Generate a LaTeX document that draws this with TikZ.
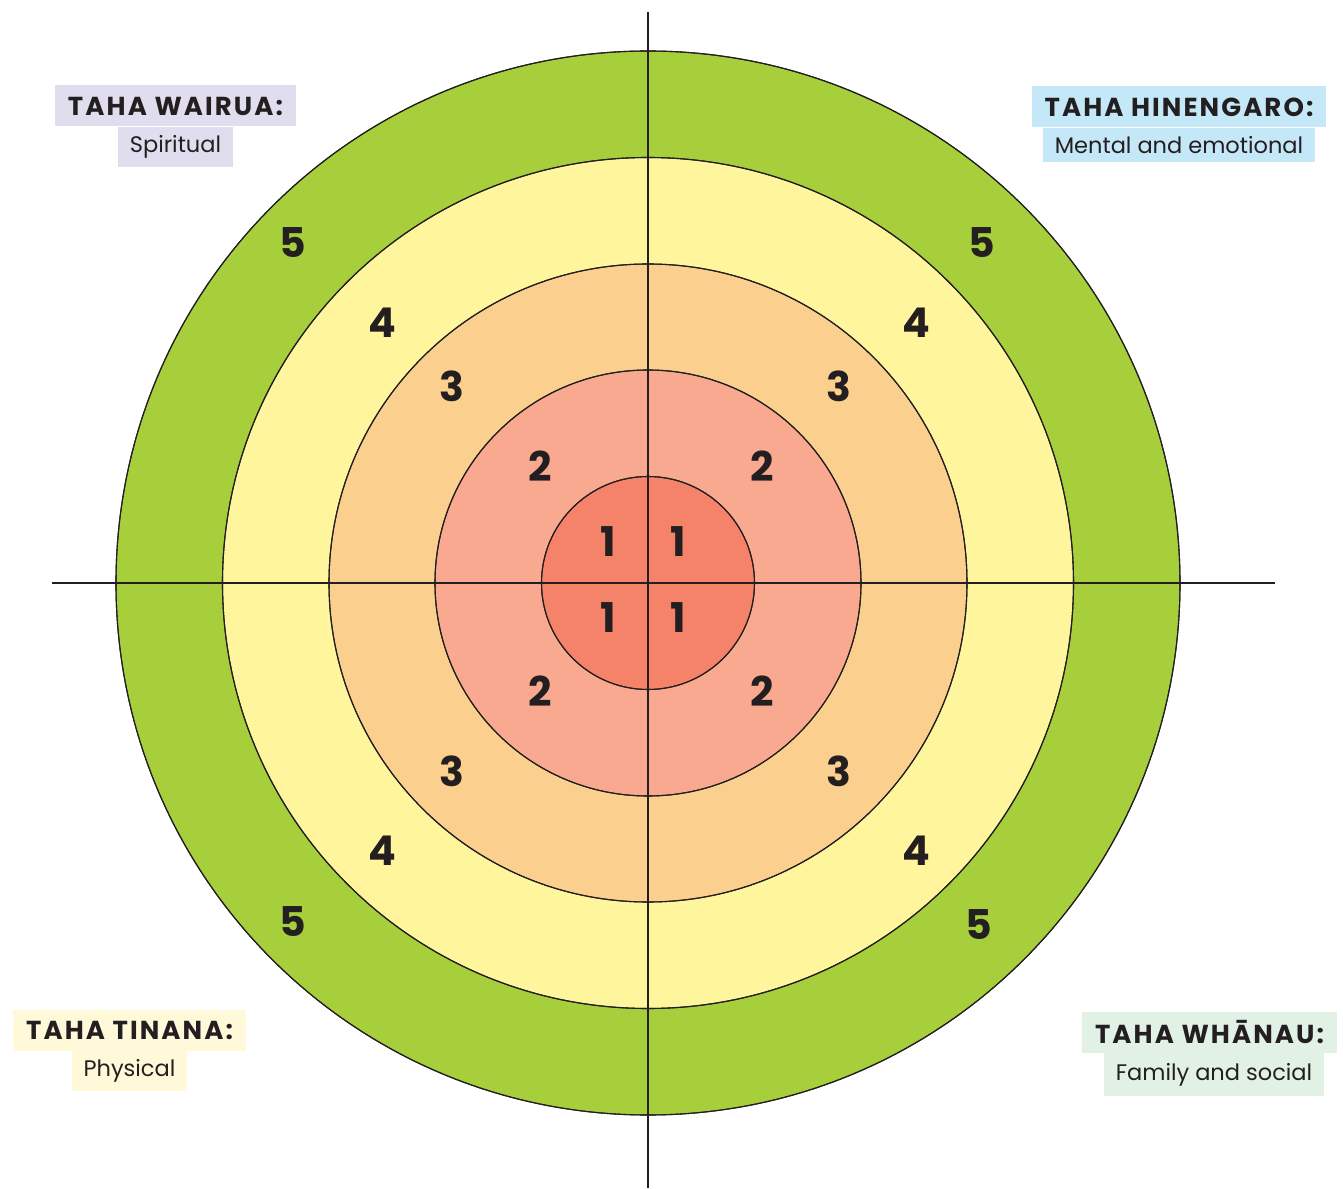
\documentclass[tikz,border=0pt]{standalone}
\usepackage{fontspec}
\setmainfont{Poppins}
\newfontfamily\titlefont[LetterSpace=8]{Poppins}
\usetikzlibrary{positioning}
\begin{document}
\begin{tikzpicture}[x=1pt, y=1pt,
    ring/.style={draw=axiscolor, line width=1.1pt},
    numlabel/.style={inner sep=0pt, text=axiscolor, font=\fontsize{41}{41}\selectfont\bfseries},
    taha/.style={inner xsep=13pt, inner ysep=0pt, minimum height=41pt, text=axiscolor,
                 font=\titlefont\fontsize{26}{26}\selectfont\bfseries},
    tahasub/.style={inner xsep=12pt, inner ysep=0pt, minimum height=40pt, text=axiscolor,
                 font=\fontsize{22.5}{22.5}\selectfont}]

  % Page size (margins included)
  \useasboundingbox (-648,-605) rectangle (695,583);

  % Define colors for each ring
  \definecolor{axiscolor}{HTML}{231F20}
  \definecolor{ring5}{HTML}{A7CE3B}
  \definecolor{ring4}{HTML}{FFF59D}
  \definecolor{ring3}{HTML}{FBD08F}
  \definecolor{ring2}{HTML}{F8A98F}
  \definecolor{ring1}{HTML}{F4836A}
  \definecolor{wairua}{HTML}{E0DEEE}
  \definecolor{hinengaro}{HTML}{C5E8F8}
  \definecolor{tinana}{HTML}{FFF9DA}
  \definecolor{whanau}{HTML}{E2F1E6}

  % Rings, outside in
  \fill[ring, fill=ring5] (0,0) circle (532);
  \fill[ring, fill=ring4] (0,0) circle (425.5);
  \fill[ring, fill=ring3] (0,0) circle (319);
  \fill[ring, fill=ring2] (0,0) circle (213);
  \fill[ring, fill=ring1] (0,0) circle (106.5);
  \foreach \r in {532,425.5,319,213,106.5}
    \draw[ring] (0,0) circle (\r);

  % Draw axes
  \draw[axiscolor, line width=2.6pt] (-596,0) -- (627,0); % Horizontal axis
  \draw[axiscolor, line width=2.6pt] (0,571) -- (0,-605); % Vertical axis

  % Ring numbers in each quadrant
  \foreach \x/\y/\n [count=\i] in {-355/340/5, 334/340/5, -355/-339/5, 331/-342/5,
                                   -266/260/4, 268/260/4, -266/-268/4, 268/-268/4,
                                   -196/197/3, 191/197/3, -196/-188/3, 191/-188/3,
                                   -108/117/2, 114/117/2, -108/-108/2, 114/-108/2,
                                   -40/41/1, 30/41/1, -40/-35/1, 30/-35/1}
    \node[numlabel] (num\i) at (\x,\y) {\n};

  % Quadrant labels
  \node[taha, fill=wairua] (wairua) at (-472.5,477) {TAHA WAIRUA:};
  \node[tahasub, fill=wairua, below=0pt of wairua] (wairuasub) {Spiritual};

  \node[taha, fill=hinengaro] (hinengaro) at (531,476) {TAHA HINENGARO:};
  \node[tahasub, fill=hinengaro, below=0pt of hinengaro, minimum height=34pt] (hinengarosub) {Mental and emotional};

  \node[taha, fill=tinana] (tinana) at (-518.5,-447) {TAHA TINANA:};
  \node[tahasub, fill=tinana, below=0pt of tinana] (tinanasub) {Physical};

  \node[taha, fill=whanau] (whanau) at (561.5,-449.5) {TAHA WHĀNAU:};
  \node[tahasub, fill=whanau, below=0pt of whanau, xshift=4.5pt, minimum height=43pt] (whanausub) {Family and social};

\end{tikzpicture}
\end{document}
